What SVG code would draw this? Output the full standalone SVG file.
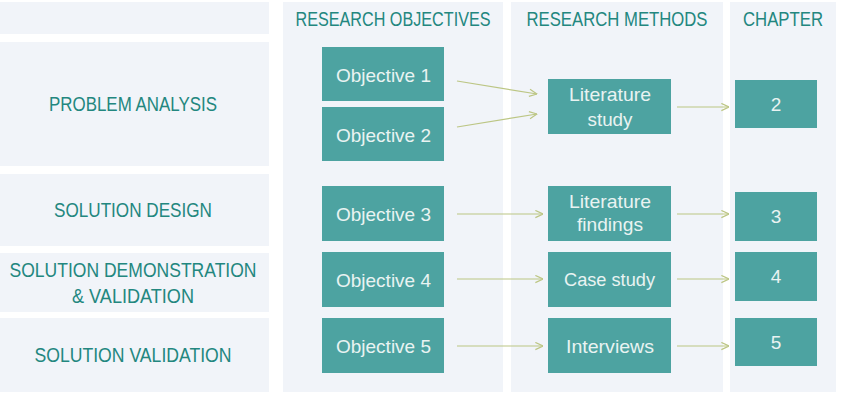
<svg xmlns="http://www.w3.org/2000/svg" width="841" height="402" viewBox="0 0 841 402">
<defs>
<style>
.band{fill:#f1f4f9}
.box{fill:#4da3a1}
.hdr{font-family:"Liberation Sans",Arial,sans-serif;font-size:19.5px;fill:#23877f;text-anchor:middle}
.bt{font-family:"Liberation Sans",Arial,sans-serif;font-size:19px;fill:#e9f3f2;text-anchor:middle}
.arr{stroke:#bcc684;stroke-width:1.2;fill:none;marker-end:url(#ah)}
</style>
<marker id="ah" viewBox="0 0 10 10" refX="9.5" refY="5" markerWidth="9" markerHeight="9" markerUnits="userSpaceOnUse" orient="auto">
<path d="M1,1 L9.5,5 L1,9" fill="none" stroke="#bcc684" stroke-width="1.3"/>
</marker>
</defs>
<rect width="841" height="402" fill="#ffffff"/>
<g id="rows">
<g id="row-top"><rect class="band" x="0" y="2" width="269" height="32"/></g>
<g id="row-problem"><rect class="band" x="0" y="42" width="269" height="124"/><text class="hdr" x="133" y="111" textLength="168" lengthAdjust="spacingAndGlyphs">PROBLEM ANALYSIS</text></g>
<g id="row-design"><rect class="band" x="0" y="174" width="269" height="72"/><text class="hdr" x="133" y="217" textLength="158" lengthAdjust="spacingAndGlyphs">SOLUTION DESIGN</text></g>
<g id="row-demo"><rect class="band" x="0" y="253" width="269" height="59"/><text class="hdr" x="133" y="277" textLength="247" lengthAdjust="spacingAndGlyphs">SOLUTION DEMONSTRATION</text><text class="hdr" x="133" y="303" textLength="122" lengthAdjust="spacingAndGlyphs">&amp; VALIDATION</text></g>
<g id="row-validation"><rect class="band" x="0" y="318" width="269" height="74"/><text class="hdr" x="133" y="362" textLength="197" lengthAdjust="spacingAndGlyphs">SOLUTION VALIDATION</text></g>
</g>
<g id="columns">
<g id="col-objectives"><rect class="band" x="283" y="2" width="220" height="390"/><text class="hdr" x="393" y="26" textLength="195" lengthAdjust="spacingAndGlyphs">RESEARCH OBJECTIVES</text></g>
<g id="col-methods"><rect class="band" x="511" y="2" width="212" height="390"/><text class="hdr" x="617" y="26" textLength="181" lengthAdjust="spacingAndGlyphs">RESEARCH METHODS</text></g>
<g id="col-chapter"><rect class="band" x="730" y="2" width="106" height="390"/><text class="hdr" x="783" y="26" textLength="80" lengthAdjust="spacingAndGlyphs">CHAPTER</text></g>
</g>
<g id="obj1"><rect class="box" x="322" y="47" width="122" height="54"/><text class="bt" x="383.5" y="81.5" textLength="95" lengthAdjust="spacingAndGlyphs">Objective 1</text></g>
<g id="obj2"><rect class="box" x="322" y="107" width="122" height="54"/><text class="bt" x="383.5" y="141.5" textLength="95" lengthAdjust="spacingAndGlyphs">Objective 2</text></g>
<g id="obj3"><rect class="box" x="322" y="186" width="122" height="55"/><text class="bt" x="383.5" y="220.5" textLength="95" lengthAdjust="spacingAndGlyphs">Objective 3</text></g>
<g id="obj4"><rect class="box" x="322" y="252" width="122" height="55"/><text class="bt" x="383.5" y="286.5" textLength="95" lengthAdjust="spacingAndGlyphs">Objective 4</text></g>
<g id="obj5"><rect class="box" x="322" y="318" width="122" height="55"/><text class="bt" x="383.5" y="352.5" textLength="95" lengthAdjust="spacingAndGlyphs">Objective 5</text></g>
<g id="m-litstudy"><rect class="box" x="548" y="79" width="123" height="55"/><text class="bt" x="610" y="101" textLength="82" lengthAdjust="spacingAndGlyphs">Literature</text><text class="bt" x="610" y="126" textLength="45" lengthAdjust="spacingAndGlyphs">study</text></g>
<g id="m-litfind"><rect class="box" x="548" y="186" width="123" height="55"/><text class="bt" x="610" y="208" textLength="82" lengthAdjust="spacingAndGlyphs">Literature</text><text class="bt" x="610" y="231" textLength="66" lengthAdjust="spacingAndGlyphs">findings</text></g>
<g id="m-case"><rect class="box" x="548" y="252" width="123" height="55"/><text class="bt" x="609.5" y="286" textLength="91" lengthAdjust="spacingAndGlyphs">Case study</text></g>
<g id="m-interviews"><rect class="box" x="548" y="318" width="123" height="55"/><text class="bt" x="610" y="352.5" textLength="88" lengthAdjust="spacingAndGlyphs">Interviews</text></g>
<g id="ch2"><rect class="box" x="735" y="80" width="82" height="48"/><text class="bt" x="776" y="111">2</text></g>
<g id="ch3"><rect class="box" x="735" y="192" width="82" height="49"/><text class="bt" x="776" y="223">3</text></g>
<g id="ch4"><rect class="box" x="735" y="252" width="82" height="49"/><text class="bt" x="776" y="283">4</text></g>
<g id="ch5"><rect class="box" x="735" y="318" width="82" height="48"/><text class="bt" x="776" y="349">5</text></g>
<g id="connectors">
<line class="arr" x1="457" y1="81" x2="537" y2="94"/>
<line class="arr" x1="457" y1="127" x2="537" y2="114"/>
<line class="arr" x1="677" y1="107" x2="729" y2="107"/>
<line class="arr" x1="457" y1="214" x2="543" y2="214"/>
<line class="arr" x1="677" y1="214" x2="729" y2="214"/>
<line class="arr" x1="457" y1="279" x2="543" y2="279"/>
<line class="arr" x1="677" y1="279" x2="729" y2="279"/>
<line class="arr" x1="457" y1="346" x2="543" y2="346"/>
<line class="arr" x1="677" y1="346" x2="729" y2="346"/>
</g>
</svg>
